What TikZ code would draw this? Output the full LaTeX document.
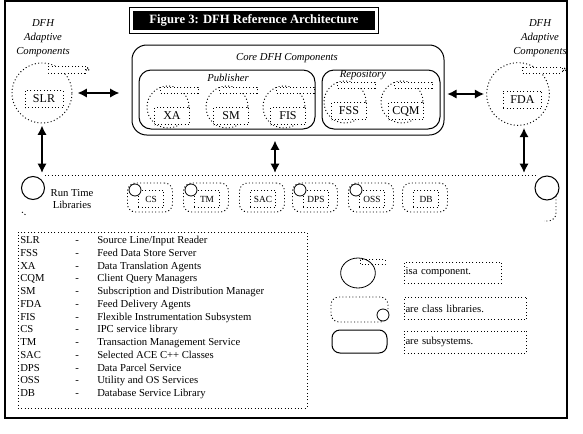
\documentclass[tikz,border=0pt]{standalone}
\usepackage{fontspec}
\setmainfont{Liberation Serif}
\usetikzlibrary{positioning,arrows.meta,shapes.geometric}
\tikzset{>={Latex[length=7pt,width=7pt]}}
\tikzset{
  dotline/.style={dash pattern=on 0.75pt off 1.75pt, line width=0.7pt},
  subsys/.style={rectangle, draw, line width=0.75pt, rounded corners=11pt, inner sep=0pt},
  compcircle/.style={circle, draw, dotline, inner sep=0pt},
  labelbox/.style={rectangle, draw, dotline, fill=white, inner sep=0pt, minimum width=26pt, minimum height=12.75pt, font=\fontsize{9}{9}\selectfont},
  libbox/.style={rectangle, draw, dotline, rounded corners=6pt, minimum width=33.75pt, minimum height=21.75pt},
  libtext/.style={rectangle, draw, dotline, inner sep=0pt, minimum width=19pt, minimum height=13pt, font=\fontsize{7}{7}\selectfont},
  grouplabel/.style={font=\fontsize{8}{10.5}\selectfont\itshape, align=center, inner sep=0pt},
  legtext/.style={font=\fontsize{8}{9}\selectfont, inner sep=0pt, anchor=base west},
  keytext/.style={rectangle, draw, dotline, inner sep=1pt, align=left, minimum height=15.75pt, font=\fontsize{8}{9}\selectfont},
  bigarrow/.style={<->, line width=1.8pt},
}
\begin{document}
\begin{tikzpicture}[x=0.75pt, y=-0.75pt]
\useasboundingbox (0,0) rectangle (583,433);
\draw[line width=1.5pt] (5,1) rectangle (567,418);

% title
\node[fill=black, text=white, inner sep=0pt, minimum width=181.5pt, minimum height=14.25pt, font=\fontsize{9.5}{11}\selectfont\bfseries] (title) at (254,20.5) {Figure 3: DFH Reference Architecture};
\draw[line width=0.75pt] ([shift={(-3,-3)}]title.north west) rectangle ([shift={(3,3)}]title.south east);

% adaptive components
\node[grouplabel] (adaptL) at (43,38) {DFH\\Adaptive\\Components};
\node[grouplabel] (adaptR) at (540,38) {DFH\\Adaptive\\Components};

\node[compcircle, minimum size=45pt] (slr) at (42,93) {};
\draw[dotline, fill=white] (48,66) rectangle (85,73);
\draw[dotline] (87.5,69.5) circle (1.6);
\node[labelbox, minimum width=28.5pt] (slrlbl) at (44,99) {SLR};

\node[compcircle, minimum size=47pt] (fda) at (518,94) {};
\draw[dotline, fill=white] (522,67) rectangle (562,73);
\draw[dotline] (564.5,70) circle (1.6);
\node[labelbox, minimum width=29pt] (fdalbl) at (522.5,99.5) {FDA};

% core
\node[subsys, minimum width=234pt, minimum height=67.5pt] (core) at (288,90) {};
\node[grouplabel] (coretitle) at (287,58) {Core DFH Components};
\node[subsys, rounded corners=9pt, minimum width=132pt, minimum height=44.25pt] (pub) at (227,99.5) {};
\node[grouplabel] (pubtitle) at (228,78) {Publisher};
\node[subsys, rounded corners=9pt, minimum width=88.5pt, minimum height=44.25pt] (repo) at (381,99.5) {};
\node[grouplabel] (repotitle) at (363,75) {Repository};

\foreach \n/\t/\x/\y in {xa/XA/172/116, sm/SM/231/116, fis/FIS/288/116, fss/FSS/349/111, cqm/CQM/406/111} {
  \draw[dotline] (\x-4,\y-9) circle (21);
  \draw[dotline, fill=white] (\x-12,\y-29) rectangle (\x+26,\y-23);
  \node[labelbox] (\n) at (\x,\y) {\t};
}

% run time libraries
\coordinate (libL) at (45,175);
\coordinate (libR) at (537,175);
\draw[dotline] (libL) -- (libR);
\node[circle, draw, line width=0.75pt, minimum size=17.25pt] (rtlL) at (33,188) {};
\node[circle, draw, line width=0.75pt, minimum size=18pt] (rtlR) at (547,188) {};
\node[font=\fontsize{8}{9}\selectfont, align=center, inner sep=0pt] (rtltxt) at (72,199) {Run Time\\Libraries};
\draw[dotline] (22,212) -- (27,216);
\draw[dotline, rounded corners=6pt] (556,196) -- (556,221) -- (544,221);

\foreach \n/\t/\x in {cs/CS/150, tm/TM/206, sac/SAC/262, dps/DPS/315, oss/OSS/371, db/DB/425} {
  \node[libbox] (\n) at (\x,197.5) {};
  \node[libtext] (\n txt) at (\x+1,199) {\t};
}
\foreach \n in {cs,tm,dps,oss}
  \draw[line width=0.6pt, fill=white] ([shift={(-15,-7.5)}]\n) circle (6);

% connectors
\draw[bigarrow, shorten <=3.75pt, shorten >=9pt] (slr.east) -- (slr.east -| core.west);
\draw[bigarrow, shorten <=2pt, shorten >=1.5pt] (core.east |- fda.west) -- (fda.west);
\draw[bigarrow, shorten <=1.5pt, shorten >=1.5pt] (slr.south) -- (slr.south |- libL);
\draw[bigarrow, shorten <=3.75pt, shorten >=1.5pt] ([xshift=-9.75pt]core.south) -- ([xshift=-9.75pt]core.south |- libL);
\draw[bigarrow, shorten <=1.5pt, shorten >=1.5pt] ([xshift=4.5pt]fda.south) -- ([xshift=4.5pt]fda.south |- libL);

% legend
\node[draw, dotline, minimum width=216.75pt, minimum height=132pt] (legend) at (162.5,320) {};
\foreach \a/\d [count=\i] in {SLR/{Source Line/Input Reader}, FSS/Feed Data Store Server, XA/Data Translation Agents, CQM/Client Query Managers, SM/Subscription and Distribution Manager, FDA/Feed Delivery Agents, FIS/Flexible Instrumentation Subsystem, CS/IPC service library, TM/Transaction Management Service, SAC/Selected ACE C++ Classes, DPS/Data Parcel Service, OSS/Utility and OS Services, DB/Database Service Library} {
  \node[legtext] (ab\i) at (20,{230.75+12.75*\i}) {\a};
  \node[legtext] (dash\i) at (75,{230.75+12.75*\i}) {-};
  \node[legtext] (desc\i) at (97,{230.75+12.75*\i}) {\d};
}

% key
\node[ellipse, draw, line width=0.6pt, minimum width=26pt, minimum height=22.5pt] (keycomp) at (358,273) {};
\draw[dotline] (360,259.5) rectangle (385,264.5);
\node[keytext, text width=71pt] (keycompt) at (453,272.5) {isa component.};
\node[libbox, minimum width=42.75pt, minimum height=18.75pt] (keylib) at (359.5,309.5) {};
\draw[line width=0.6pt, fill=white] (383,315) circle (6);
\node[keytext, text width=90pt, minimum height=17pt] (keylibt) at (465.5,308.5) {are class libraries.};
\node[subsys, rounded corners=6pt, minimum width=41.25pt, minimum height=17.25pt] (keysub) at (359.5,341.5) {};
\node[keytext, text width=90pt, minimum height=16.5pt] (keysubt) at (465.5,342) {are subsystems.};
\end{tikzpicture}
\end{document}
